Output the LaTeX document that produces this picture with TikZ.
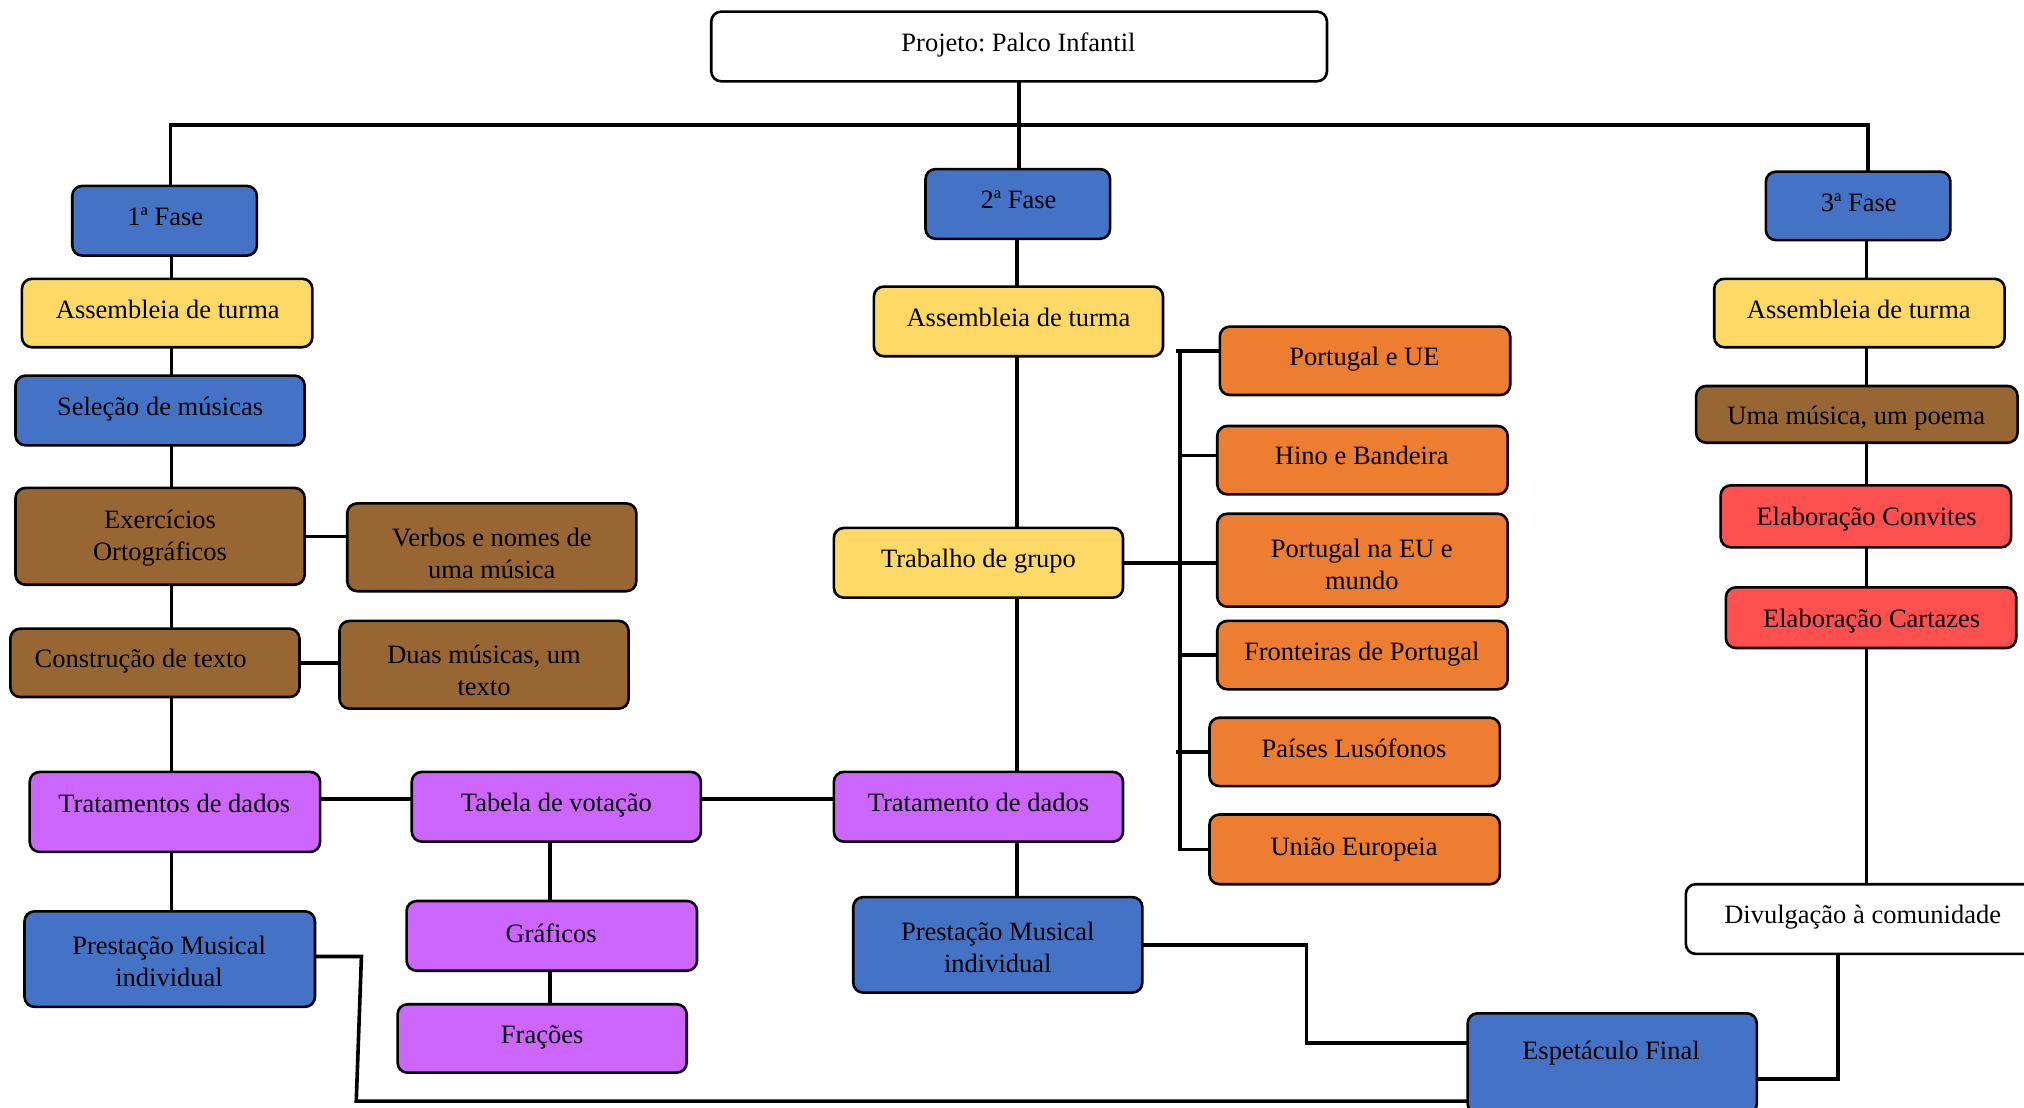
\documentclass[tikz,border=0pt]{standalone}
\usepackage{fontspec}
\setmainfont{Liberation Serif}
\frenchspacing
\usetikzlibrary{calc}
\definecolor{cblue}{HTML}{4472C4}
\definecolor{cyel}{HTML}{FFD966}
\definecolor{cbrown}{HTML}{986633}
\definecolor{corange}{HTML}{ED7D31}
\definecolor{cpurp}{HTML}{CC66FF}
\definecolor{cred}{HTML}{FF5050}
\newcommand\bx[6]{\node[box,#2,minimum width={(#5-#3)*1.2908pt},minimum height={(#6-#4)*1.2908pt}] (#1) at ({(#3+#5)/2},{(#4+#6)/2}) {};}
\begin{document}
\begin{tikzpicture}[x=1.2908pt,y=-1.2908pt,
 box/.style={draw=black,line width=2.6pt,rounded corners=10pt,inner sep=0pt,outer sep=0pt},
 txt/.style={inner sep=0pt,font=\fontsize{26.5}{32}\selectfont,text height=17.5pt,text depth=0pt},
 txttwo/.style={inner sep=0pt,font=\fontsize{26.5}{32}\selectfont,align=center},
 conn/.style={draw=black,line width=3.6pt}]
\useasboundingbox (0,0) rectangle (1568,858);
% boxes
\bx{proj}{fill=white}{551}{9}{1028}{63}
\bx{f1}{fill=cblue}{56}{144}{199}{198}
\bx{a1}{fill=cyel}{17}{216}{242}{269}
\bx{se}{fill=cblue}{12}{291}{236}{345}
\bx{ex}{fill=cbrown}{12}{378}{236}{453}
\bx{vb}{fill=cbrown}{269}{390}{493}{458}
\bx{co}{fill=cbrown}{8}{487}{232}{540}
\bx{du}{fill=cbrown}{263}{481}{487}{549}
\bx{tr}{fill=cpurp}{23}{598}{248}{660}
\bx{tb}{fill=cpurp}{319}{598}{543}{652}
\bx{gr}{fill=cpurp}{315}{698}{540}{752}
\bx{fr}{fill=cpurp}{308}{778}{532}{831}
\bx{pl}{fill=cblue}{19}{706}{244}{780}
\bx{f2}{fill=cblue}{717}{131}{860}{185}
\bx{am}{fill=cyel}{677}{222}{901}{276}
\bx{tg}{fill=cyel}{646}{409}{870}{463}
\bx{tm}{fill=cpurp}{646}{598}{870}{652}
\bx{pm}{fill=cblue}{661}{695}{885}{769}
\bx{o1}{fill=corange}{945}{253}{1170}{306}
\bx{o2}{fill=corange}{943}{330}{1168}{383}
\bx{o3}{fill=corange}{943}{398}{1168}{470}
\bx{o4}{fill=corange}{943}{481}{1168}{534}
\bx{o5}{fill=corange}{937}{556}{1162}{609}
\bx{o6}{fill=corange}{937}{631}{1162}{685}
\bx{f3}{fill=cblue}{1368}{133}{1511}{186}
\bx{ar}{fill=cyel}{1328}{216}{1553}{269}
\bx{um}{fill=cbrown}{1314}{299}{1563}{343}
\bx{ec}{fill=cred}{1333}{376}{1558}{424}
\bx{ca}{fill=cred}{1337}{455}{1562}{502}
\bx{dv}{fill=white}{1306}{685}{1582}{739}
\bx{es}{fill=cblue}{1137}{785}{1361}{863}
% texts
\node[txt] (proj-t) at (789,33) {Projeto: Palco Infantil};
\node[txt] (f1-t) at (128,168) {1ª Fase};
\node[txt] (a1-t) at (130,240) {Assembleia de turma};
\node[txt] (se-t) at (124,315) {Seleção de músicas};
\node[txttwo] (ex-t) at (124,417) {Exercícios\\Ortográficos};
\node[txttwo] (vb-t) at (381,429) {Verbos e nomes de\\uma música};
\node[txt] (co-t) at (109,510) {Construção de texto};
\node[txttwo] (du-t) at (375,519) {Duas músicas, um\\texto};
\node[txt] (tr-t) at (135,623) {Tratamentos de dados};
\node[txt] (tb-t) at (431,622) {Tabela de votação};
\node[txt] (gr-t) at (427,723) {Gráficos};
\node[txt] (fr-t) at (420,802) {Frações};
\node[txttwo] (pl-t) at (131,745) {Prestação Musical\\individual};
\node[txt] (f2-t) at (789,155) {2ª Fase};
\node[txt] (am-t) at (789,246) {Assembleia de turma};
\node[txt] (tg-t) at (758,433) {Trabalho de grupo};
\node[txt] (tm-t) at (758,622) {Tratamento de dados};
\node[txttwo] (pm-t) at (773,734) {Prestação Musical\\individual};
\node[txt] (o1-t) at (1057,276) {Portugal e UE};
\node[txt] (o2-t) at (1055,353) {Hino e Bandeira};
\node[txttwo] (o3-t) at (1055,437) {Portugal na EU e\\mundo};
\node[txt] (o4-t) at (1055,505) {Fronteiras de Portugal};
\node[txt] (o5-t) at (1049,580) {Países Lusófonos};
\node[txt] (o6-t) at (1049,656) {União Europeia};
\node[txt] (f3-t) at (1440,157) {3ª Fase};
\node[txt] (ar-t) at (1440,240) {Assembleia de turma};
\node[txt] (um-t) at (1438,322) {Uma música, um poema};
\node[txt] (ec-t) at (1446,400) {Elaboração Convites};
\node[txt] (ca-t) at (1450,479) {Elaboração Cartazes};
\node[txt] (dv-t) at (1443,709) {Divulgação à comunidade};
\node[txt] (es-t) at (1248,814) {Espetáculo Final};
% helper coordinates
\coordinate (hl) at (132,97);
\coordinate (hr) at (1447,97);
\coordinate (cl) at (133,0);
\coordinate (cm) at (788,0);
\coordinate (cr) at (1446,0);
\coordinate (cb) at (914,0);
\coordinate (cg) at (426,0);
\coordinate (rt) at (0,619);
\coordinate (bt) at (914,272);
\coordinate (bb) at (914,658);
\coordinate (ej) at (1012,808);
\coordinate (b1) at (280,741);
\coordinate (b2) at (276,853);
\coordinate (d1) at (1424,836);
% connectors
\draw[conn] (proj.south) -- (proj.south |- f2.north);
\draw[conn] (hl |- f1.north) -- (hl) -- (hr) -- (hr |- f3.north);
\foreach \a/\b in {f1/a1,a1/se,se/ex,ex/co,co/tr,tr/pl}
  \draw[conn] (cl |- \a.south) -- (cl |- \b.north);
\foreach \a/\b in {f2/am,am/tg,tg/tm,tm/pm}
  \draw[conn] (cm |- \a.south) -- (cm |- \b.north);
\foreach \a/\b in {f3/ar,ar/um,um/ec,ec/ca,ca/dv}
  \draw[conn] (cr |- \a.south) -- (cr |- \b.north);
\foreach \a/\b in {tb/gr,gr/fr}
  \draw[conn] (cg |- \a.south) -- (cg |- \b.north);
\draw[conn] (ex.east) -- (ex.east -| vb.west);
\draw[conn] (co.east) -- (co.east -| du.west);
\draw[conn] (tr.east |- rt) -- (tb.west |- rt);
\draw[conn] (tb.east |- rt) -- (tm.west |- rt);
\draw[conn] (tg.east) -- (cb |- tg.east);
\draw[conn] (bt) -- (bb) -- (o6.west |- bb);
\draw[conn] ($(bt)+(-3,0)$) -- (o1.west |- bt);
\draw[conn] ($(o2.west)+(0,-3.5)$) coordinate (t2) -- (cb |- t2);
\draw[conn] ($(o3.west)+(0,2)$) coordinate (t3) -- (cb |- t3);
\draw[conn] (o4.west) -- (cb |- o4.west);
\draw[conn] (o5.west) -- ($(cb |- o5.west)+(-3,0)$);
\draw[conn] (pm.east) -| (ej) -- (es.west |- ej);
\draw[conn] (pl.east |- b1) -- (b1) -- (b2) -- (es.west |- b2);
\draw[conn] (d1 |- dv.south) -- (d1) -- (es.east |- d1);
\end{tikzpicture}
\end{document}
